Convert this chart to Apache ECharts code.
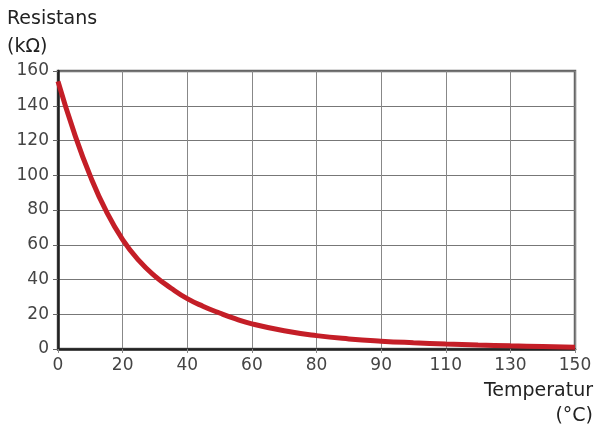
<!DOCTYPE html>
<html>
<head>
<meta charset="utf-8">
<script src="https://cdn.jsdelivr.net/npm/echarts@6/dist/echarts.min.js"></script>
<style>
html,body{margin:0;padding:0;background:#fff;}
#c{width:597px;height:436px;}
</style>
</head>
<body>
<div id="c"></div>
<script>
// x positions in grid units (each grid step = 20), tick labels as printed
var xTickLabels = ['0','20','40','60','80','90','110','130','150'];
var curveX = [0, 5, 10, 15, 20, 25, 30, 35, 40, 45, 50, 55, 60, 70, 80, 90, 100, 110, 120, 130, 140, 150, 160];
var curveY = [154, 124.5, 99.5, 79, 63, 51, 42, 35, 29, 24.5, 20.7, 17.3, 14.5, 10.5, 7.7, 5.8, 4.5, 3.6, 2.9, 2.3, 1.8, 1.4, 1.0];

var data = curveX.map(function(x,i){return [x, curveY[i]];});
var chart = echarts.init(document.getElementById('c'));
var font = 'DejaVu Sans';
chart.setOption({
  animation:false,
  grid:{left:58,right:22,top:71,bottom:87,show:true,borderColor:'#666',borderWidth:2.5,containLabel:false},
  title:{text:'Resistans\n(kΩ)',left:2,top:0,textStyle:{fontFamily:font,fontSize:19,fontWeight:'normal',color:'#222',lineHeight:28}},
  graphic:[
    {type:'text',right:4,top:382,style:{text:'Temperatur',fontFamily:font,fontSize:19,fill:'#222'}},
    {type:'text',right:4,top:407,style:{text:'(°C)',fontFamily:font,fontSize:19,fill:'#222'}}
  ],
  xAxis:{type:'value',min:0,max:160,interval:20,
    axisLine:{show:true,lineStyle:{color:'#222',width:2.5}},
    axisTick:{show:true,length:4,lineStyle:{color:'#888'}},
    splitLine:{show:true,lineStyle:{color:'#888',width:1}},
    axisLabel:{fontFamily:font,fontSize:17,color:'#444',margin:8,
      formatter:function(v){return xTickLabels[Math.round(v/20)];}}
  },
  yAxis:{type:'value',min:0,max:160,interval:20,
    axisLine:{show:true,lineStyle:{color:'#222',width:2.5}},
    axisTick:{show:true,length:5,lineStyle:{color:'#666'}},
    splitLine:{show:true,lineStyle:{color:'#777',width:1}},
    axisLabel:{fontFamily:font,fontSize:17,color:'#444',margin:9}
  },
  series:[{type:'line',data:data,smooth:0.5,showSymbol:false,clip:false,
    lineStyle:{color:'#c41e27',width:5}}]
});
</script>
</body>
</html>
